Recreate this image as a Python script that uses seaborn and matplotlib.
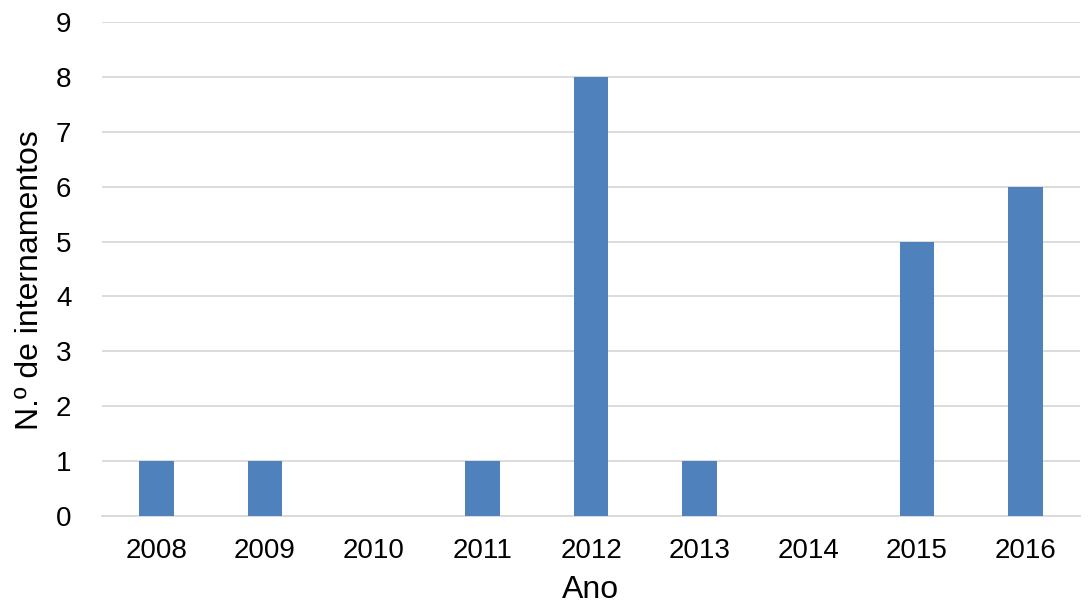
import matplotlib
matplotlib.use("Agg")
import matplotlib.pyplot as plt
import seaborn as sns
import pandas as pd

years = ["2008", "2009", "2010", "2011", "2012", "2013", "2014", "2015", "2016"]
counts = [1, 1, 0, 1, 8, 1, 0, 5, 6]
yticks = list(range(0, 10))

sns.set_theme(style="white")
plt.rcParams['font.family'] = ['Liberation Sans', 'DejaVu Sans']

df = pd.DataFrame({"Ano": years, "n": counts})

fig = plt.figure(figsize=(10.89, 6.12), dpi=100)
ax = fig.add_axes([102/1089, 1-516/612, (1080-102)/1089, (516-22)/612])
sns.barplot(data=df, x="Ano", y="n", color="#4F81BD", saturation=1, width=0.32,
            linewidth=0, edgecolor="none", ax=ax, zorder=3)
ax.set_ylim(0, 9)
ax.set_yticks(yticks)
ax.set_xlim(-0.5, len(years) - 0.5)
ax.yaxis.grid(True, color="#D9D9D9", linewidth=1.3, zorder=0)
ax.set_axisbelow(True)
for s in ["top", "right", "left"]:
    ax.spines[s].set_visible(False)
ax.spines["bottom"].set_color("#D9D9D9")
ax.spines["bottom"].set_linewidth(1.3)
ax.tick_params(axis="both", length=0, labelsize=20, colors="black")
ax.tick_params(axis="x", pad=16)
ax.tick_params(axis="y", pad=22)
ax.set_xlabel("Ano", fontsize=23, labelpad=8, color="black")
ax.set_ylabel("N.º de internamentos", fontsize=23, labelpad=8, color="black")
ax.yaxis.set_label_coords(-0.058, 0.478)
fig.savefig("out.png", dpi=100)
